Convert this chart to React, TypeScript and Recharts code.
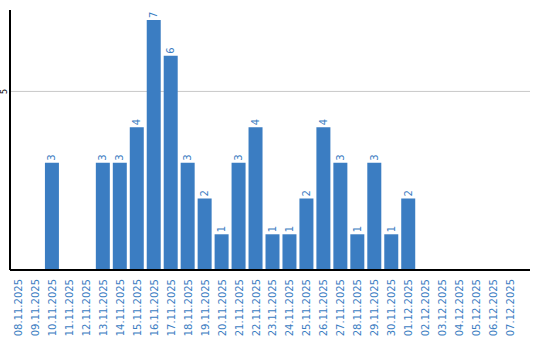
import React from "react";
import { BarChart, Bar, XAxis, YAxis, CartesianGrid, LabelList } from "recharts";

const dates = [
  "08.11.2025", "09.11.2025", "10.11.2025", "11.11.2025", "12.11.2025", "13.11.2025",
  "14.11.2025", "15.11.2025", "16.11.2025", "17.11.2025", "18.11.2025", "19.11.2025",
  "20.11.2025", "21.11.2025", "22.11.2025", "23.11.2025", "24.11.2025", "25.11.2025",
  "26.11.2025", "27.11.2025", "28.11.2025", "29.11.2025", "30.11.2025", "01.12.2025",
  "02.12.2025", "03.12.2025", "04.12.2025", "05.12.2025", "06.12.2025", "07.12.2025",
];
const counts = [0, 0, 3, 0, 0, 3, 3, 4, 7, 6, 3, 2, 1, 3, 4, 1, 1, 2, 4, 3, 1, 3, 1, 2, 0, 0, 0, 0, 0, 0];
const yTicks = [5];

const data = dates.map((d, i) => ({ date: d, count: counts[i] }));

const BLUE = "#3b7dc2";
const FONT = "DejaVu Sans";

const XTick = (props: any) => {
  const { x, y, payload } = props;
  const ty = y + 1;
  return (
    <text
      x={x}
      y={ty}
      transform={`rotate(-90, ${x}, ${ty})`}
      textAnchor="end"
      dominantBaseline="central"
      fill={BLUE}
      fontSize={10}
      fontFamily={FONT}
    >
      {payload.value}
    </text>
  );
};

const YTick = (props: any) => {
  const { y, payload } = props;
  const x = 5;
  return (
    <text
      x={x}
      y={y}
      transform={`rotate(-90, ${x}, ${y})`}
      textAnchor="middle"
      dominantBaseline="central"
      fill="#000"
      fontSize={8}
      fontFamily={FONT}
    >
      {payload.value}
    </text>
  );
};

const ValueLabel = (props: any) => {
  const { x, y, width, value } = props;
  if (!value) return null;
  const cx = x + width / 2;
  const ty = y - 2;
  return (
    <text
      x={cx}
      y={ty}
      transform={`rotate(-90, ${cx}, ${ty})`}
      textAnchor="start"
      dominantBaseline="central"
      fill={BLUE}
      fontSize={10}
      fontFamily={FONT}
    >
      {value}
    </text>
  );
};

export default function App() {
  return (
    <div style={{ position: "absolute", left: 0, top: 0, background: "#fff" }}>
      <BarChart
        width={540}
        height={340}
        data={data}
        margin={{ top: 10, right: 10, bottom: 0, left: 0 }}
        barSize={14}
      >
        <CartesianGrid vertical={false} stroke="#c8c8c8" horizontalValues={yTicks} />
        <XAxis
          dataKey="date"
          interval={0}
          height={70}
          tick={<XTick />}
          tickLine={false}
          axisLine={{ stroke: "#000", strokeWidth: 2 }}
          padding={{ left: 0, right: 11 }}
        />
        <YAxis
          width={10}
          domain={[0, 7.28]}
          ticks={yTicks}
          tick={<YTick />}
          tickLine={false}
          axisLine={{ stroke: "#000", strokeWidth: 2 }}
          allowDataOverflow
        />
        <Bar dataKey="count" fill={BLUE} isAnimationActive={false}>
          <LabelList dataKey="count" content={<ValueLabel />} />
        </Bar>
      </BarChart>
    </div>
  );
}
